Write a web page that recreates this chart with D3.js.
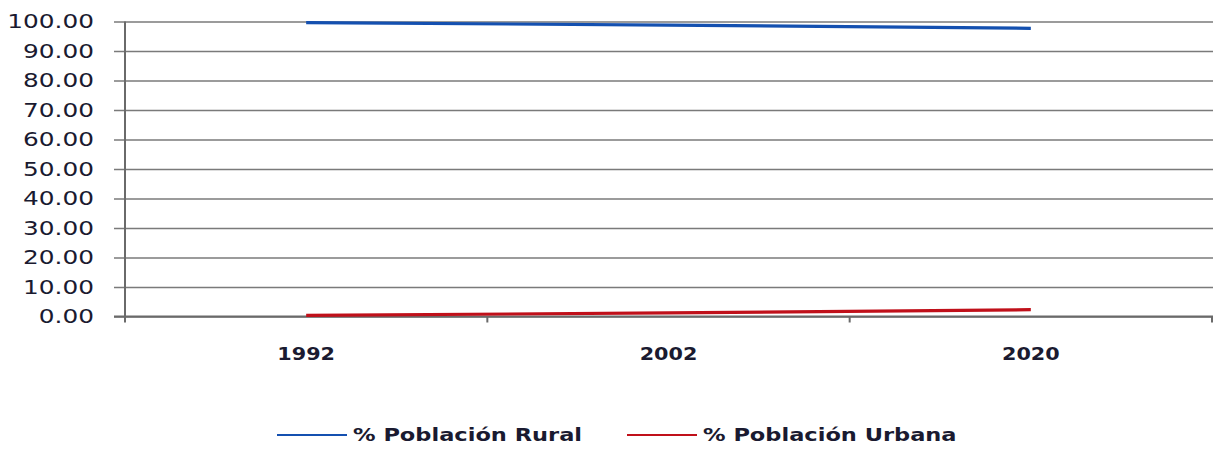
<!DOCTYPE html>
<html><head><meta charset="utf-8">
<script src="https://cdn.jsdelivr.net/npm/d3@7/dist/d3.min.js"></script>
<style>body{margin:0;background:#fff}svg{display:block}</style>
</head><body>
<svg id="c" width="1213" height="450"></svg>
<script>
const categories = ["1992", "2002", "2020"];
const rural = [99.6, 98.8, 97.7];
const urbana = [0.4, 1.2, 2.3];
const seriesNames = ["% Población Rural", "% Población Urbana"];
const seriesColors = ["#1450b0", "#c0101a"];
const yTicks = [0,10,20,30,40,50,60,70,80,90,100];

const svg = d3.select("#c");
const W = 1213;
const x = d3.scaleBand().domain(categories).range([125, 1212]).padding(0);
const y = d3.scaleLinear().domain([0, 100]).range([316.5, 21.5]);
function stretch(sx){
  return sel => sel.each(function(){
    const n = this.getComputedTextLength();
    this.setAttribute("textLength", n*sx);
    this.setAttribute("lengthAdjust","spacingAndGlyphs");
  });
}
const FONT = "'DejaVu Sans', Verdana, sans-serif";
const TXT = "#1a1a30";

// gridlines
const yAxis = d3.axisLeft(y).tickValues(yTicks).tickSize(-(W - 125)).tickSizeOuter(0).tickPadding(31)
  .tickFormat(d3.format(".2f"));
const gy = svg.append("g").attr("transform","translate(125,0)").call(yAxis);
gy.select(".domain").remove();
gy.selectAll(".tick line").attr("x1",-11).attr("stroke","#7a7a7a").attr("stroke-width",1.6);
gy.selectAll(".tick text").attr("font-family",FONT)
  .attr("font-size",19.5).attr("fill",TXT).call(stretch(1.27));

// vertical axis line
svg.append("line").attr("x1",125).attr("x2",125).attr("y1",y(100)).attr("y2",y(0)+5)
  .attr("stroke","#6a6a6a").attr("stroke-width",2);

// x axis
const xAxis = d3.axisBottom(x).tickSize(0).tickPadding(31);
const gx = svg.append("g").attr("transform",`translate(0,${y(0)})`).call(xAxis);
gx.select(".domain").remove();
gx.selectAll(".tick text").attr("font-family",FONT)
  .attr("font-weight","bold").attr("font-size",17).attr("fill",TXT).call(stretch(1.22));
const bounds = categories.map(c => x(c)).concat([x.range()[1]]);
svg.append("g").selectAll("line").data(bounds).join("line")
  .attr("x1",d=>d).attr("x2",d=>d).attr("y1",y(0)).attr("y2",y(0)+6)
  .attr("stroke","#6a6a6a").attr("stroke-width",2);
svg.append("line").attr("x1",114).attr("x2",W).attr("y1",y(0)).attr("y2",y(0))
  .attr("stroke","#6a6a6a").attr("stroke-width",2);

// lines
const line = d3.line().x((d,i)=>x(categories[i]) + x.bandwidth()/2).y(d=>y(d));
[rural, urbana].forEach((s,k)=>{
  svg.append("path").datum(s).attr("d",line).attr("fill","none")
    .attr("stroke",seriesColors[k]).attr("stroke-width",3.2);
});

// legend
const legendX = [277, 627];
const lg = svg.append("g");
seriesNames.forEach((n,k)=>{
  lg.append("line").attr("x1",legendX[k]).attr("x2",legendX[k]+70).attr("y1",435).attr("y2",435)
    .attr("stroke",seriesColors[k]).attr("stroke-width",2);
  lg.append("text").attr("x",legendX[k]+76).attr("y",441)
    .attr("font-family",FONT).attr("font-weight","bold")
    .attr("font-size",18).attr("fill",TXT).text(n).call(stretch(1.25));
});
</script>
</body></html>
